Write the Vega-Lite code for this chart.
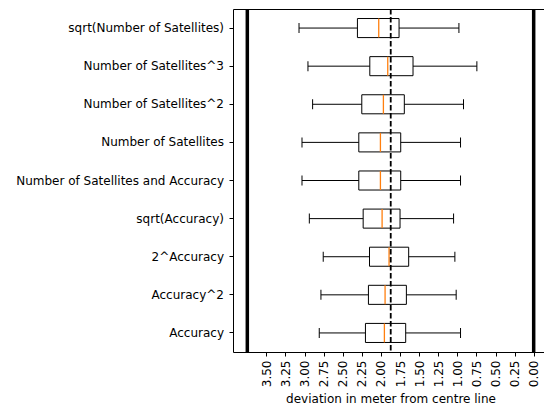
{
  "$schema": "https://vega.github.io/schema/vega-lite/v6.json",
  "autosize": {"type": "none"},
  "padding": {"left": 233, "top": 9, "right": 0, "bottom": 56},
  "width": 315,
  "height": 343,
  "background": "white",
  "config": {
    "font": "DejaVu Sans",
    "view": {"stroke": "black", "strokeWidth": 1},
    "axis": {"labelFont": "DejaVu Sans", "titleFont": "DejaVu Sans", "labelFontSize": 12, "titleFontSize": 12, "labelColor": "black", "titleColor": "black", "tickColor": "black", "domainColor": "black", "grid": false, "tickSize": 4, "titleFontWeight": "normal", "labelOverlap": false, "labelLimit": 0}
  },
  "datasets": {
    "boxes": [
      {"name": "sqrt(Number of Satellites)", "lo": 3.073, "q1": 2.308, "med": 2.029, "q3": 1.763, "hi": 0.979},
      {"name": "Number of Satellites^3", "lo": 2.956, "q1": 2.146, "med": 1.911, "q3": 1.580, "hi": 0.744},
      {"name": "Number of Satellites^2", "lo": 2.895, "q1": 2.251, "med": 1.968, "q3": 1.694, "hi": 0.919},
      {"name": "Number of Satellites", "lo": 3.034, "q1": 2.290, "med": 2.007, "q3": 1.741, "hi": 0.958},
      {"name": "Number of Satellites and Accuracy", "lo": 3.034, "q1": 2.290, "med": 2.007, "q3": 1.741, "hi": 0.958},
      {"name": "sqrt(Accuracy)", "lo": 2.938, "q1": 2.233, "med": 1.985, "q3": 1.750, "hi": 1.049},
      {"name": "2^Accuracy", "lo": 2.756, "q1": 2.150, "med": 1.894, "q3": 1.637, "hi": 1.032},
      {"name": "Accuracy^2", "lo": 2.786, "q1": 2.164, "med": 1.946, "q3": 1.667, "hi": 1.015},
      {"name": "Accuracy", "lo": 2.808, "q1": 2.203, "med": 1.955, "q3": 1.676, "hi": 0.958}
    ],
    "dashed": [{"v": 1.872}],
    "bounds": [{"v": 0}, {"v": 3.75}]
  },
  "layer": [
    {
      "data": {"name": "boxes"},
      "mark": {"type": "rule", "color": "black", "strokeWidth": 1},
      "encoding": {
        "y": {"field": "name", "type": "nominal", "sort": null, "scale": {"paddingInner": 0, "paddingOuter": 0}, "axis": {"title": null, "labelPadding": 5.5, "domain": false}},
        "x": {"field": "lo", "type": "quantitative", "scale": {"domain": [-0.1875, 3.9375], "reverse": true, "nice": false, "zero": false}, "axis": {"title": "deviation in meter from centre line", "values": [0, 0.25, 0.5, 0.75, 1, 1.25, 1.5, 1.75, 2, 2.25, 2.5, 2.75, 3, 3.25, 3.5], "format": ".2f", "labelAngle": 270, "labelPadding": 4, "titlePadding": 7, "domain": false}},
        "x2": {"field": "q1"}
      }
    },
    {
      "data": {"name": "boxes"},
      "mark": {"type": "rule", "color": "black", "strokeWidth": 1},
      "encoding": {
        "y": {"field": "name", "type": "nominal", "sort": null},
        "x": {"field": "q3", "type": "quantitative", "axis": {"title": "deviation in meter from centre line", "values": [0, 0.25, 0.5, 0.75, 1, 1.25, 1.5, 1.75, 2, 2.25, 2.5, 2.75, 3, 3.25, 3.5], "format": ".2f", "labelAngle": 270, "labelPadding": 4, "titlePadding": 7, "domain": false}},
        "x2": {"field": "hi"}
      }
    },
    {
      "data": {"name": "boxes"},
      "mark": {"type": "bar", "fill": "transparent", "stroke": "black", "strokeWidth": 1, "height": {"band": 0.5}},
      "encoding": {
        "y": {"field": "name", "type": "nominal", "sort": null},
        "x": {"field": "q1", "type": "quantitative", "axis": {"title": "deviation in meter from centre line", "values": [0, 0.25, 0.5, 0.75, 1, 1.25, 1.5, 1.75, 2, 2.25, 2.5, 2.75, 3, 3.25, 3.5], "format": ".2f", "labelAngle": 270, "labelPadding": 4, "titlePadding": 7, "domain": false}},
        "x2": {"field": "q3"}
      }
    },
    {
      "data": {"name": "boxes"},
      "mark": {"type": "tick", "color": "#ff7f0e", "size": 19, "thickness": 1.3, "opacity": 1},
      "encoding": {
        "y": {"field": "name", "type": "nominal", "sort": null},
        "x": {"field": "med", "type": "quantitative", "axis": {"title": "deviation in meter from centre line", "values": [0, 0.25, 0.5, 0.75, 1, 1.25, 1.5, 1.75, 2, 2.25, 2.5, 2.75, 3, 3.25, 3.5], "format": ".2f", "labelAngle": 270, "labelPadding": 4, "titlePadding": 7, "domain": false}}
      }
    },
    {
      "data": {"name": "boxes"},
      "mark": {"type": "tick", "color": "black", "size": 10, "thickness": 1, "opacity": 1},
      "encoding": {
        "y": {"field": "name", "type": "nominal", "sort": null},
        "x": {"field": "lo", "type": "quantitative", "axis": {"title": "deviation in meter from centre line", "values": [0, 0.25, 0.5, 0.75, 1, 1.25, 1.5, 1.75, 2, 2.25, 2.5, 2.75, 3, 3.25, 3.5], "format": ".2f", "labelAngle": 270, "labelPadding": 4, "titlePadding": 7, "domain": false}}
      }
    },
    {
      "data": {"name": "boxes"},
      "mark": {"type": "tick", "color": "black", "size": 10, "thickness": 1, "opacity": 1},
      "encoding": {
        "y": {"field": "name", "type": "nominal", "sort": null},
        "x": {"field": "hi", "type": "quantitative", "axis": {"title": "deviation in meter from centre line", "values": [0, 0.25, 0.5, 0.75, 1, 1.25, 1.5, 1.75, 2, 2.25, 2.5, 2.75, 3, 3.25, 3.5], "format": ".2f", "labelAngle": 270, "labelPadding": 4, "titlePadding": 7, "domain": false}}
      }
    },
    {
      "data": {"name": "dashed"},
      "mark": {"type": "rule", "color": "black", "strokeWidth": 1.8, "strokeDash": [5.5, 2.5]},
      "encoding": {"x": {"field": "v", "type": "quantitative", "axis": {"title": "deviation in meter from centre line", "values": [0, 0.25, 0.5, 0.75, 1, 1.25, 1.5, 1.75, 2, 2.25, 2.5, 2.75, 3, 3.25, 3.5], "format": ".2f", "labelAngle": 270, "labelPadding": 4, "titlePadding": 7, "domain": false}}}
    },
    {
      "data": {"name": "bounds"},
      "mark": {"type": "rule", "color": "black", "strokeWidth": 3.5},
      "encoding": {"x": {"field": "v", "type": "quantitative", "axis": {"title": "deviation in meter from centre line", "values": [0, 0.25, 0.5, 0.75, 1, 1.25, 1.5, 1.75, 2, 2.25, 2.5, 2.75, 3, 3.25, 3.5], "format": ".2f", "labelAngle": 270, "labelPadding": 4, "titlePadding": 7, "domain": false}}}
    }
  ]
}
